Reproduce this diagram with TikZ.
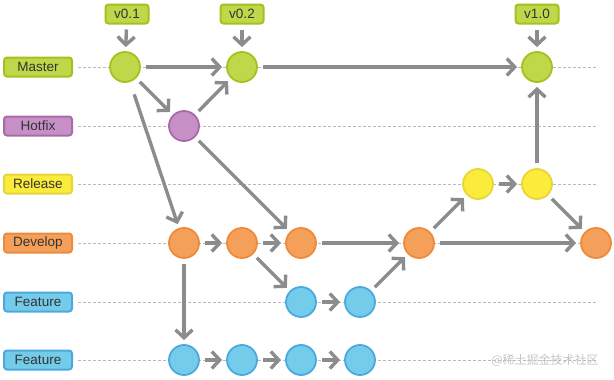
\documentclass[tikz,border=0pt]{standalone}
\usepackage{fontspec}
\setmainfont{Liberation Sans}
\newfontfamily\cjkfont{Noto Sans CJK SC}
\usetikzlibrary{arrows.meta}

\definecolor{masterfill}{HTML}{BED84A}
\definecolor{masterline}{HTML}{A2C21E}
\definecolor{hotfixfill}{HTML}{C690C6}
\definecolor{hotfixline}{HTML}{A66CA8}
\definecolor{releasefill}{HTML}{FBEB3A}
\definecolor{releaseline}{HTML}{E6D63A}
\definecolor{developfill}{HTML}{F5A05A}
\definecolor{developline}{HTML}{EF8A3A}
\definecolor{featurefill}{HTML}{72CCEA}
\definecolor{featureline}{HTML}{4CA8DE}
\definecolor{flowgray}{HTML}{8C8C8C}
\definecolor{textgray}{HTML}{333333}

\begin{document}
\begin{tikzpicture}[x=1pt,y=-1pt,
  branch/.style={draw=#1line,fill=#1fill,line width=2pt,rounded corners=3pt,
    minimum width=68pt,minimum height=19pt,inner sep=0pt,text=textgray,
    font=\fontsize{13.5}{15}\selectfont},
  tag/.style={draw=masterline,fill=masterfill,line width=2pt,rounded corners=3pt,
    minimum width=43pt,minimum height=19pt,inner sep=0pt,text=textgray,
    font=\fontsize{13.5}{15}\selectfont},
  commit/.style={circle,draw=#1line,fill=#1fill,line width=1.8pt,
    minimum size=30pt,inner sep=0pt},
  lane/.style={densely dashed,draw=gray!55,line width=0.6pt},
  flow/.style={draw=flowgray,line width=3.4pt,shorten <=5pt,shorten >=4pt,
    -{Straight Barb[length=8pt,width=17pt,line width=3.4pt]}}]
\useasboundingbox (0,0) rectangle (614,380);

% Lanes
\foreach \y in {67,126,184,243,302,360}
  \draw[lane] (78,\y) -- (598,\y);

% Branch labels
\node[branch=master]  (lmaster)  at (38,67)  {Master};
\node[branch=hotfix]  (lhotfix)  at (38,126) {Hotfix};
\node[branch=release] (lrelease) at (38,184) {Release};
\node[branch=develop] (ldevelop) at (38,243) {Develop};
\node[branch=feature] (lfeatA)   at (38,302) {Feature};
\node[branch=feature] (lfeatB)   at (38,360) {Feature};

% Commits
\node[commit=master]  (m1) at (125,67) {};
\node[commit=master]  (m2) at (242,67) {};
\node[commit=master]  (m3) at (537,67) {};
\node[commit=hotfix]  (h1) at (184,126) {};
\node[commit=release] (r1) at (478,184) {};
\node[commit=release] (r2) at (537,184) {};
\node[commit=develop] (d1) at (184,243) {};
\node[commit=develop] (d2) at (242,243) {};
\node[commit=develop] (d3) at (301,243) {};
\node[commit=develop] (d4) at (419,243) {};
\node[commit=develop] (d5) at (596,243) {};
\node[commit=feature] (fa1) at (301,302) {};
\node[commit=feature] (fa2) at (360,302) {};
\node[commit=feature] (fb1) at (184,360) {};
\node[commit=feature] (fb2) at (242,360) {};
\node[commit=feature] (fb3) at (301,360) {};
\node[commit=feature] (fb4) at (360,360) {};

% Tags
\node[tag] (t1) at (127,14) {v0.1};
\node[tag] (t2) at (242,14) {v0.2};
\node[tag] (t3) at (537,14) {v1.0};
\draw[flow] (t1) -- (m1);
\draw[flow] (t2) -- (m2);
\draw[flow] (t3) -- (m3);

% Flow
\draw[flow] (m1) -- (m2);
\draw[flow] (m2) -- (m3);
\draw[flow] (m1) -- (h1);
\draw[flow] (h1) -- (m2);
\draw[flow,shorten <=13pt] (m1) -- (d1);
\draw[flow] (h1) -- (d3);
\draw[flow] (d1) -- (d2);
\draw[flow] (d2) -- (d3);
\draw[flow] (d3) -- (d4);
\draw[flow] (d4) -- (d5);
\draw[flow] (d2) -- (fa1);
\draw[flow] (fa1) -- (fa2);
\draw[flow] (fa2) -- (d4);
\draw[flow] (d4) -- (r1);
\draw[flow] (r1) -- (r2);
\draw[flow] (r2) -- (m3);
\draw[flow] (r2) -- (d5);
\draw[flow] (d1) -- (fb1);
\draw[flow] (fb1) -- (fb2);
\draw[flow] (fb2) -- (fb3);
\draw[flow] (fb3) -- (fb4);

% Watermark
\node[text=gray!45,font=\cjkfont\fontsize{12}{14}\selectfont] (mark) at (545,360) {@稀土掘金技术社区};
\end{tikzpicture}
\end{document}
